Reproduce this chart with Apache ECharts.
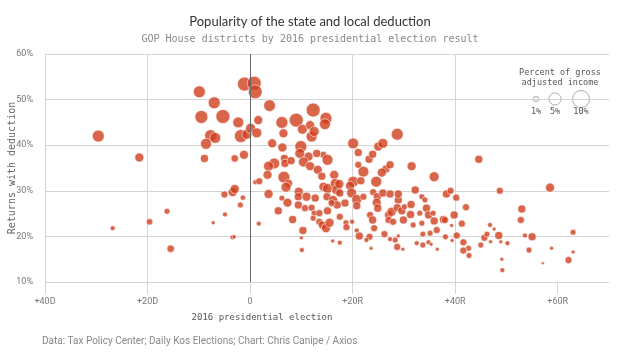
<!DOCTYPE html>
<html>
<head>
<meta charset="utf-8">
<script src="https://cdn.jsdelivr.net/npm/echarts@6/dist/echarts.min.js"></script>
<style>
html, body { margin: 0; padding: 0; background: #fff; }
#chart { width: 620px; height: 354px; }
</style>
</head>
<body>
<div id="chart"></div>
<script>
// 2016 presidential margin (negative = D, positive = R)
var margins = [
  -29.6, -21.6, -26.8, -19.6, -16.2, -15.5, -9.9, -7.0, -9.5, -5.3,
  -2.3, -7.7, -6.8, -8.6, -8.9, -3.0, -1.2, -1.8, -0.6, 0.1,
  -1.1, 0.8, 1.0, 1.6, 1.3, -3.4, -3.0, -5.0, -1.4, -1.9,
  -4.9, -7.2, -3.4, -3.1, 1.0, 1.8, 1.7, 3.8, 6.2, 6.5,
  9.0, 10.2, 11.7, 12.3, 14.8, 14.6, 12.0, 12.5, 4.3, 6.3,
  9.9, 9.7, 11.4, 6.7, 4.7, 3.6, 6.8, 8.0, 10.4, 11.7,
  13.2, 14.3, 15.1, 14.0, 16.4, 3.4, 6.6, 7.5, 7.0, 3.6,
  6.2, 7.3, 5.5, 8.3, 9.5, 9.4, 11.0, 9.4, 10.7, 12.7,
  12.0, 12.5, 13.5, 12.3, 13.5, 14.1, 14.8, 15.5, 15.1, 10.3,
  10.0, 10.1, 14.3, 15.1, 15.0, 16.6, 16.9, 17.4, 17.5, 16.2,
  17.0, 15.9, 18.5, 18.7, 18.8, 19.9, 16.1, 17.5, 20.1, 21.1,
  21.1, 22.1, 23.2, 23.9, 25.0, 25.9, 28.7, 20.1, 19.5, 19.8,
  20.8, 20.8, 22.1, 24.6, 24.0, 24.8, 24.7, 24.9, 25.9, 27.3,
  26.5, 27.3, 25.7, 23.4, 23.9, 24.2, 23.3, 23.6, 22.7, 21.3,
  20.8, 26.2, 27.0, 27.6, 27.0, 27.9, 28.9, 28.7, 29.6, 30.1,
  29.9, 28.9, 28.3, 28.7, 29.8, 27.3, 31.5, 32.2, 33.5, 31.4,
  31.3, 33.1, 34.4, 34.8, 35.7, 33.5, 31.8, 35.9, 33.7, 32.5,
  33.7, 34.8, 35.1, 35.9, 44.6, 58.5, 48.7, 38.3, 39.1, 40.2,
  42.1, 39.8, 37.7, 38.0, 39.3, 41.3, 36.4, 38.1, 40.3, 39.4,
  35.3, 36.5, 41.6, 42.6, 41.6, 42.7, 45.0, 45.7, 46.2, 46.8,
  47.6, 46.9, 48.5, 48.9, 50.2, 49.1, 49.2, 53.0, 52.8, 53.6,
  55.0, 54.4, 58.8, 57.1, 63.0, 63.0, 62.1, 17.5, 13.0, 21.6,
  28.9, 34.1
];
// share of returns claiming the deduction (%)
var returns = [
  42.0, 37.3, 21.8, 23.2, 25.5, 17.3, 51.7, 49.3, 46.2, 46.3,
  45.0, 42.1, 41.6, 40.3, 37.1, 37.1, 37.9, 42.0, 42.4, 43.7,
  53.4, 53.6, 51.7, 45.5, 42.7, 29.7, 30.4, 29.2, 28.5, 26.9,
  24.8, 23.0, 19.8, 19.9, 31.9, 32.1, 22.8, 48.7, 45.0, 42.6,
  45.5, 43.5, 44.4, 47.7, 45.9, 44.6, 41.9, 43.0, 40.4, 39.5,
  39.7, 38.2, 37.5, 37.1, 36.0, 35.4, 36.0, 36.6, 36.3, 35.4,
  34.6, 37.9, 36.8, 33.2, 33.5, 33.5, 33.0, 31.6, 30.8, 29.3,
  28.4, 27.4, 25.6, 23.7, 29.8, 28.7, 28.7, 26.9, 26.2, 28.4,
  26.3, 25.1, 25.1, 24.0, 23.2, 22.5, 21.8, 23.0, 25.6, 21.3,
  19.7, 17.0, 30.9, 30.5, 28.7, 31.6, 30.2, 31.5, 29.5, 28.0,
  26.9, 27.3, 27.3, 23.0, 22.0, 23.2, 19.0, 18.6, 40.4, 38.4,
  35.7, 34.2, 36.9, 38.0, 39.7, 40.4, 42.4, 32.0, 31.1, 29.5,
  28.1, 26.7, 28.7, 32.0, 29.7, 28.7, 27.4, 26.2, 29.5, 29.3,
  34.8, 35.7, 34.0, 24.7, 23.6, 21.8, 19.9, 17.4, 19.2, 20.1,
  21.3, 20.5, 24.7, 25.4, 23.6, 23.2, 28.0, 26.3, 25.6, 26.5,
  23.6, 20.1, 19.2, 17.7, 17.2, 19.4, 35.4, 30.2, 28.7, 27.0,
  24.8, 25.1, 26.2, 24.7, 25.1, 22.9, 22.5, 23.4, 20.5, 18.5,
  18.1, 18.7, 20.7, 33.1, 36.9, 30.7, 30.0, 29.3, 30.0, 28.5,
  26.4, 24.7, 23.7, 23.6, 22.4, 22.8, 21.4, 19.9, 20.2, 19.1,
  18.3, 17.2, 18.7, 17.4, 16.9, 15.8, 18.1, 19.7, 20.5, 22.5,
  21.6, 18.8, 20.2, 18.8, 18.5, 15.0, 12.6, 26.0, 23.6, 20.2,
  19.9, 17.0, 17.4, 14.1, 20.9, 16.6, 14.8, 24.3, 38.2, 32.2,
  29.3, 28.0
];
// deduction as percent of gross adjusted income
var agiShare = [
  4.9, 2.8, 0.85, 1.4, 1.2, 1.9, 4.9, 4.9, 5.8, 6.7,
  4.1, 4.9, 4.1, 4.1, 2.2, 1.9, 2.8, 5.8, 3.4, 3.4,
  6.7, 6.7, 6.7, 2.8, 3.4, 2.8, 2.8, 1.7, 1.0, 1.2,
  0.85, 0.55, 0.85, 0.55, 0.85, 1.7, 0.85, 4.7, 4.9, 2.8,
  6.7, 3.4, 2.8, 6.7, 4.9, 4.1, 4.1, 3.4, 2.8, 2.8,
  4.9, 3.4, 2.8, 2.2, 4.1, 3.4, 2.2, 2.2, 3.4, 2.8,
  2.8, 1.7, 4.1, 2.2, 2.8, 2.8, 4.9, 2.2, 3.4, 2.8,
  1.2, 2.8, 2.2, 2.2, 2.8, 2.2, 2.8, 2.2, 1.7, 2.2,
  1.7, 1.2, 1.7, 1.2, 1.7, 2.2, 2.8, 2.8, 2.2, 2.2,
  0.55, 0.85, 2.8, 3.4, 2.2, 3.4, 3.4, 2.8, 2.2, 2.8,
  2.2, 1.7, 2.2, 1.2, 1.7, 0.85, 0.55, 0.85, 4.1, 2.2,
  1.7, 4.1, 2.2, 2.2, 2.8, 3.4, 4.9, 4.1, 2.8, 3.4,
  3.4, 2.2, 1.7, 4.1, 1.7, 2.2, 2.8, 2.2, 2.2, 2.2,
  2.2, 2.2, 2.8, 1.7, 2.2, 1.7, 1.7, 0.55, 0.85, 2.2,
  0.85, 1.7, 2.2, 2.8, 1.7, 1.7, 2.2, 2.2, 2.2, 1.2,
  2.2, 0.55, 1.2, 1.7, 0.55, 0.85, 2.8, 2.2, 1.2, 2.2,
  2.2, 1.2, 2.2, 2.2, 1.2, 1.2, 1.2, 2.2, 1.2, 0.85,
  1.2, 0.85, 1.2, 3.4, 2.2, 2.8, 1.7, 2.2, 1.7, 1.7,
  1.7, 2.2, 2.2, 1.7, 0.55, 1.7, 1.7, 1.2, 1.7, 0.55,
  0.55, 0.55, 1.7, 1.2, 1.7, 1.2, 1.2, 1.7, 1.2, 0.85,
  0.55, 0.55, 2.2, 0.55, 0.85, 0.55, 0.85, 2.2, 1.7, 0.85,
  2.2, 1.2, 0.55, 0.3, 1.2, 0.55, 1.7, 1.7, 2.2, 2.2,
  2.2, 1.2
];
var xTicks = [-40, -20, 0, 20, 40, 60];
var yTicks = [10, 20, 30, 40, 50, 60];
var legendSizes = [1, 5, 10];
var legendX = [536, 555, 581];

var mono = 'DejaVu Sans Mono';
var gridColor = '#d4d4d4';

function bubbleSize(v) {
    return 5.4 * Math.sqrt(v);
}

var points = margins.map(function (m, i) {
    return [m, returns[i], agiShare[i]];
});

// 图例（气泡大小）
var legendItems = [
    { type: 'rect', shape: { x: 515, y: 66, width: 90, height: 23 }, style: { fill: '#fff' } },
    { type: 'rect', shape: { x: 526, y: 106, width: 70, height: 12 }, style: { fill: '#fff' } },
    { type: 'text', x: 560, y: 73, style: { text: 'Percent of gross', fill: '#555', font: '8.5px "' + mono + '"', align: 'center', verticalAlign: 'middle' } },
    { type: 'text', x: 560, y: 83, style: { text: 'adjusted income', fill: '#555', font: '8.5px "' + mono + '"', align: 'center', verticalAlign: 'middle' } }
];
legendSizes.forEach(function (s, i) {
    var r = bubbleSize(s) / 2;
    legendItems.push({ type: 'circle', shape: { cx: legendX[i], cy: 99, r: r + 2 }, style: { fill: '#fff' } });
    legendItems.push({ type: 'circle', shape: { cx: legendX[i], cy: 99, r: r }, style: { fill: '#fff', stroke: '#999', lineWidth: 0.8 } });
    legendItems.push({ type: 'text', x: legendX[i], y: 112, style: { text: s + '%', fill: '#555', font: '8.5px "' + mono + '"', align: 'center', verticalAlign: 'middle' } });
});

var chart = echarts.init(document.getElementById('chart'));

var option = {
    backgroundColor: '#fff',
    animation: false,
    title: [{
        text: 'Popularity of the state and local deduction',
        left: 'center',
        top: 10,
        textStyle: { fontFamily: 'Lato', fontSize: 13, fontWeight: 'normal', color: '#333' }
    }, {
        text: 'GOP House districts by 2016 presidential election result',
        left: 'center',
        top: 29,
        textStyle: { fontFamily: mono, fontSize: 10, fontWeight: 'normal', color: '#888' }
    }, {
        text: 'Data: Tax Policy Center; Daily Kos Elections; Chart: Chris Canipe / Axios',
        left: 37,
        top: 331,
        textStyle: { fontFamily: 'Roboto', fontSize: 10, fontWeight: 'normal', color: '#888' }
    }],
    grid: { left: 45, right: 11, top: 54, bottom: 72, containLabel: false, outerBoundsMode: 'none' },
    xAxis: {
        type: 'value',
        min: -40,
        max: 70,
        interval: 20,
        name: '2016 presidential election',
        nameLocation: 'middle',
        nameGap: 31,
        nameMoveOverlap: false,
        nameTextStyle: { fontFamily: mono, fontSize: 9, color: '#555', padding: [0, 130, 0, 0] },
        axisLine: { show: false },
        axisTick: { show: true, length: 12, lineStyle: { color: gridColor }, customValues: xTicks },
        axisLabel: {
            customValues: xTicks,
            margin: 15,
            fontFamily: 'Roboto', fontSize: 9, color: '#777',
            formatter: function (v) {
                if (v < 0) return '+' + (-v) + 'D';
                if (v > 0) return '+' + v + 'R';
                return '0';
            }
        },
        splitLine: { show: true, showMaxLine: false, lineStyle: { color: gridColor, width: 1 } }
    },
    yAxis: {
        type: 'value',
        min: 10,
        max: 60,
        interval: 10,
        name: 'Returns with deduction',
        nameLocation: 'middle',
        nameGap: 28,
        nameMoveOverlap: false,
        nameTextStyle: { fontFamily: mono, fontSize: 10, color: '#666' },
        axisLine: { show: false },
        axisTick: { show: true, length: 10, lineStyle: { color: gridColor } },
        axisLabel: { margin: 12, fontFamily: 'Roboto', fontSize: 9, color: '#777', formatter: '{value}%' },
        splitLine: { show: true, lineStyle: { color: gridColor, width: 1 } }
    },
    graphic: legendItems,
    series: [{
        type: 'scatter',
        data: points,
        symbol: 'circle',
        symbolSize: function (d) { return bubbleSize(d[2]); },
        itemStyle: { color: '#cf3e1e', opacity: 0.8, borderColor: '#fff', borderWidth: 0.7 },
        markLine: {
            silent: true,
            symbol: 'none',
            label: { show: false },
            lineStyle: { color: '#666', width: 1, type: 'solid' },
            data: [{ xAxis: 0 }]
        }
    }]
};

chart.setOption(option);
</script>
</body>
</html>
